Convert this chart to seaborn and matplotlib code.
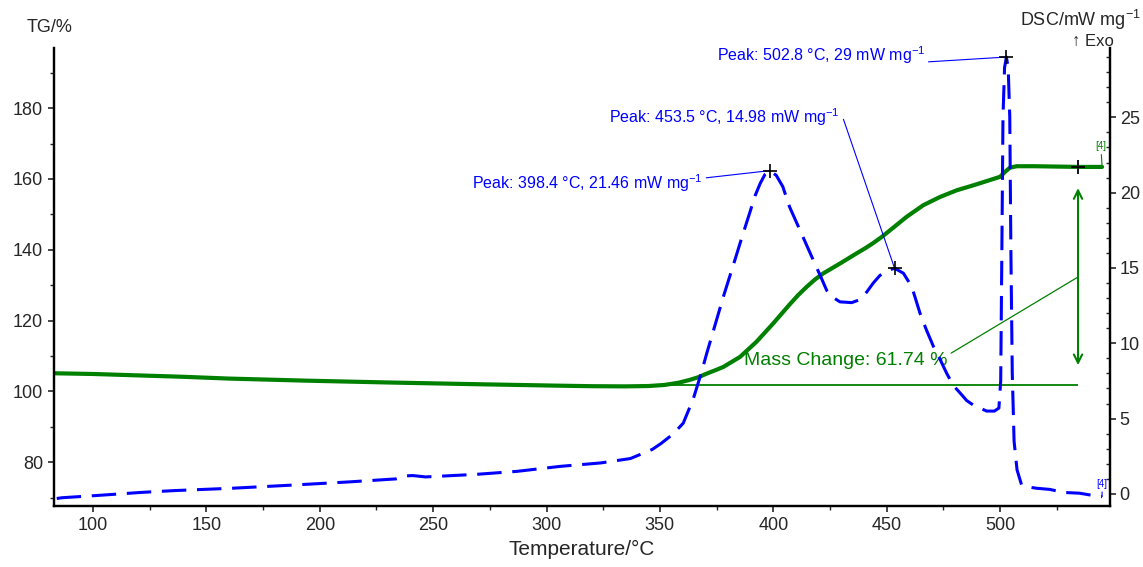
import matplotlib
matplotlib.use("Agg")
import matplotlib.pyplot as plt
import matplotlib.ticker as mticker
import pandas as pd
import seaborn as sns

# TG curve (left axis, %)
temp_tg = [83, 100, 120, 140, 160, 195, 230, 270, 305, 320, 335, 345, 352, 358, 363,
           367, 371, 375, 378, 385.3, 392.6, 400, 407.3, 411, 414.7, 418.4, 422,
           429.4, 436.8, 440.5, 444.1, 447.8, 451.5, 458.8, 466.2, 473.5, 480.9,
           488.2, 495.6, 500, 502.2, 504.4, 507.4, 515, 525, 535, 545]
tg = [105.1, 104.9, 104.5, 104.1, 103.6, 103.0, 102.5, 102.0, 101.6, 101.45, 101.4,
      101.5, 101.8, 102.4, 103.2, 104.0, 105.1, 106.1, 106.9, 109.7, 114.0, 119.2,
      124.6, 127.2, 129.5, 131.6, 133.3, 136.1, 139.0, 140.4, 141.9, 143.6, 145.5,
      149.3, 152.6, 154.9, 156.8, 158.2, 159.7, 160.6, 162.0, 163.2, 163.6, 163.6,
      163.5, 163.4, 163.4]

# DSC curve (right axis, mW/mg)
temp_dsc = [84, 86.5, 102, 121, 135.5, 161.5, 187, 213, 233.7, 238, 241, 246.7, 269,
            287, 306, 324, 337, 342.6, 346.7, 350.6, 356, 360.3, 364.7, 368.4, 370.6,
            374.5, 378, 382.4, 386.1, 389.7, 392, 394.2, 396.3, 398.4, 401.3, 404.2,
            407.2, 411.8, 417.7, 421, 423.6, 425.8, 429.4, 434.6, 438.3, 441.2, 444.1,
            447, 450, 453.5, 457.4, 461.1, 464.7, 467.5, 470.6, 473.5, 476.5, 479.4,
            482.4, 485.3, 488.2, 494.1, 497.5, 499.5, 500.3, 500.8, 501.3, 502.0,
            502.8, 503.6, 504.3, 504.8, 505.4, 506.2, 507.5, 509.5, 513, 516, 522,
            528, 535, 541, 545]
dsc = [-0.3, -0.25, -0.1, 0.1, 0.22, 0.38, 0.58, 0.8, 1.0, 1.2, 1.22, 1.13, 1.3,
       1.5, 1.83, 2.06, 2.35, 2.7, 2.96, 3.36, 4.0, 4.7, 6.3, 8.1, 9.3,
       11.3, 13.1, 15.2, 17.0, 18.7, 19.8, 20.6, 21.2, 21.46, 21.15, 20.4,
       19.05, 17.5, 15.5, 14.4, 13.5, 13.1, 12.75, 12.7, 12.9, 13.4, 14.0,
       14.5, 14.8, 14.98, 14.65, 13.75, 12.0, 10.9, 9.8, 8.95, 8.0, 7.2,
       6.7, 6.2, 5.9, 5.5, 5.5, 5.7, 7.5, 16.0, 25.0, 28.3,
       29.0, 28.3, 25.0, 16.0, 8.0, 3.5, 1.6, 0.6, 0.45, 0.38, 0.3,
       0.1, 0.05, -0.1, -0.18]

peak_temp = [398.4, 453.5, 502.8]
peak_dsc = [21.46, 14.98, 29.0]
peak_labels = ["Peak: 398.4 °C, 21.46 mW mg$^{-1}$",
               "Peak: 453.5 °C, 14.98 mW mg$^{-1}$",
               "Peak: 502.8 °C, 29 mW mg$^{-1}$"]
peak_text_xy = [(369.0, 20.6), (429.5, 25.0), (467.0, 29.1)]
peak_relpos = [(1, 0.75), (1, 0.85), (1, 0.2)]

mass_change = 61.74
tg_end = 163.4
tg_base = tg_end - mass_change
mark_temp = 534.4

GREEN = "#008000"
BLUE = "#0000ff"

sns.set_style("ticks")
plt.rcParams["font.family"] = ["Liberation Sans", "DejaVu Sans"]
plt.rcParams["mathtext.default"] = "regular"

df_tg = pd.DataFrame({"temp": temp_tg, "tg": tg})
df_dsc = pd.DataFrame({"temp": temp_dsc, "dsc": dsc})

fig = plt.figure(figsize=(11.43, 5.67), dpi=100)
ax = fig.add_axes([54 / 1143, 61 / 567, (1110 - 54) / 1143, (506 - 48) / 567])
ax2 = ax.twinx()

sns.lineplot(ax=ax, data=df_tg, x="temp", y="tg", color=GREEN, linewidth=3.0,
             sort=False, estimator=None)
sns.lineplot(ax=ax2, data=df_dsc, x="temp", y="dsc", color=BLUE, linewidth=2.2,
             sort=False, estimator=None)
ax2.lines[0].set_dashes((8, 3.5))

ax.set_xlim(82.8, 548.5)
ax.set_ylim(67.6, 197)
ax2.set_ylim(-0.8, 29.6)

# mass change markup
ax.hlines(tg_base, 348, mark_temp, color=GREEN, lw=1.3)
ax.scatter([mark_temp], [tg_end], marker="+", color="black", s=110, lw=1.3, zorder=5)
ax.annotate("", xy=(mark_temp, 107.4), xytext=(mark_temp, 157.4),
            arrowprops=dict(arrowstyle="<->,head_length=0.6,head_width=0.3",
                            color=GREEN, lw=1.5, shrinkA=0, shrinkB=0))
ax.annotate("Mass Change: 61.74 %", xy=(mark_temp, 132.3), xytext=(477, 108.8),
            ha="right", va="center", color=GREEN, fontsize=14,
            arrowprops=dict(arrowstyle="-", color=GREEN, lw=0.9,
                            shrinkA=0, shrinkB=0, relpos=(1, 0.8)))
ax.annotate("[4]", xy=(545, tg_end), xytext=(544.5, 167.8), ha="center", va="bottom",
            color=GREEN, fontsize=7,
            arrowprops=dict(arrowstyle="-", color=GREEN, lw=0.8, shrinkA=0, shrinkB=0))

# peaks
ax2.scatter(peak_temp, peak_dsc, marker="+", color="black", s=110, lw=1.2, zorder=5)
for lab, (tx, ty), xt, yt, rp in zip(peak_labels, peak_text_xy, peak_temp, peak_dsc,
                                      peak_relpos):
    ax2.annotate(lab, xy=(xt, yt), xytext=(tx, ty), ha="right", va="center",
                 color=BLUE, fontsize=11.5,
                 arrowprops=dict(arrowstyle="-", color=BLUE, lw=0.8,
                                 shrinkA=0, shrinkB=0, relpos=rp))
ax2.annotate("[4]", xy=(545, -0.18), xytext=(545, 0.35), ha="center", va="bottom",
             color=BLUE, fontsize=7,
             arrowprops=dict(arrowstyle="-", color=BLUE, lw=0.8, shrinkA=0, shrinkB=0))

# axes styling
for a in (ax, ax2):
    a.spines["top"].set_visible(False)
    for s in ("left", "right", "bottom"):
        a.spines[s].set_linewidth(1.6)
        a.spines[s].set_color("black")

ax.xaxis.set_major_locator(mticker.MultipleLocator(50))
ax.xaxis.set_minor_locator(mticker.MultipleLocator(25))
ax.yaxis.set_major_locator(mticker.MultipleLocator(20))
ax.yaxis.set_minor_locator(mticker.MultipleLocator(10))
ax2.yaxis.set_major_locator(mticker.MultipleLocator(5))
ax2.yaxis.set_minor_locator(mticker.MultipleLocator(1))

ax.tick_params(axis="both", which="major", direction="out", length=4, width=1.2,
               labelsize=13, pad=4)
ax.tick_params(axis="both", which="minor", direction="out", length=3, width=1.0)
ax2.tick_params(axis="y", which="major", direction="out", length=4, width=1.2,
                labelsize=13, pad=3)
ax2.tick_params(axis="y", which="minor", direction="in", length=3, width=1.0)

ax.set_xlabel("Temperature/°C", fontsize=15, labelpad=4)
ax.set_ylabel("")
ax2.set_ylabel("")

fig.text(50 / 1143, 1 - 28 / 567, "TG/%", ha="center", va="center", fontsize=13)
fig.text(1141 / 1143, 1 - 20 / 567, "DSC/mW mg$^{-1}$", ha="right", va="center",
         fontsize=13)
fig.text(1114 / 1143, 1 - 41 / 567, "↑ Exo", ha="right", va="center", fontsize=12)

fig.savefig("out.png", dpi=100)
